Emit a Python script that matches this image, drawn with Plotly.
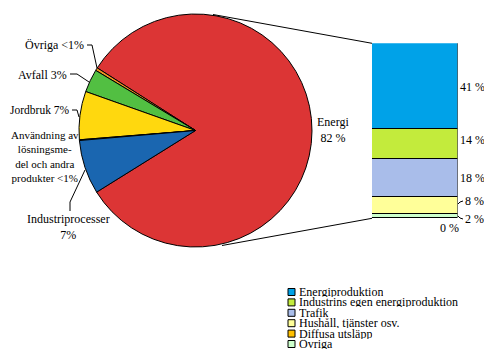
import plotly.graph_objects as go

# The page body keeps an 8px margin, so the figure is drawn 8px smaller and
# every reference pixel position is shifted by that offset.
OFF = 8
W, H = 492 - OFF, 358 - OFF

# Pie data (percent of total emissions)
pie_labels = ["Energi", "Övriga", "Avfall", "Jordbruk",
              "Användning av lösningsmedel och andra produkter", "Industriprocesser"]
pie_values = [82.1, 0.4, 3.2, 6.7, 0.1, 7.5]
pie_colors = ["#DC3535", "#F29422", "#52BF42", "#FFD80E", "#303030", "#1A66B0"]
pie_text = ["Energi<br>82 %", "Övriga <1%", "Avfall 3%", "Jordbruk 7%",
            "Användning av<br>lösningsme-<br>del och andra<br>produkter <1%",
            "Industriprocesser<br>7%"]

# Breakdown of Energi (percent of total)
bar_labels = ["Övriga", "Diffusa utsläpp", "Hushåll, tjänster osv.", "Trafik",
              "Industrins egen energiproduktion", "Energiproduktion"]
bar_values = [2, 0, 8, 18, 14, 41]
bar_colors = ["#CCFFCC", "#FFC000", "#FFFF99", "#A9BDEA", "#C3EB3C", "#00A2E8"]
legend_order = ["Energiproduktion", "Industrins egen energiproduktion", "Trafik",
                "Hushåll, tjänster osv.", "Diffusa utsläpp", "Övriga"]


def X(p):
    return (p - OFF) / W


def Y(p):
    return 1 - (p - OFF) / H


FAM = "Liberation Serif, Times New Roman, serif"
FONT = dict(family=FAM, size=12, color="black")

# pie geometry (reference pixels)
cx, cy, r = 195.5, 130.5, 116.5
# bar geometry (reference pixels)
bx0, bx1, by_top, by_bot = 372, 457.5, 43.3, 218.3

fig = go.Figure()
fig.add_trace(go.Pie(
    labels=pie_labels, values=pie_values, sort=False,
    direction="counterclockwise", rotation=-57.5,
    marker=dict(colors=pie_colors, line=dict(color="black", width=1)),
    textinfo="none", hoverinfo="label+percent", showlegend=False,
    domain=dict(x=[X(cx - r), X(cx + r)], y=[Y(cy + r), Y(cy - r)]),
))

total = sum(bar_values)
for lab, val, col in zip(bar_labels, bar_values, bar_colors):
    fig.add_trace(go.Bar(
        x=[0], y=[val], name=lab, width=1,
        marker=dict(color=col, line=dict(color="black", width=1)),
        showlegend=False, xaxis="x", yaxis="y",
    ))

fig.update_layout(
    width=W, height=H, margin=dict(l=0, r=0, t=0, b=0),
    paper_bgcolor="white", plot_bgcolor="rgba(0,0,0,0)",
    barmode="stack", bargap=0,
    xaxis=dict(domain=[X(bx0), X(bx1)], range=[-0.5, 0.5], visible=False, fixedrange=True),
    yaxis=dict(domain=[Y(by_bot), Y(by_top)], range=[0, total], visible=False, fixedrange=True),
    font=FONT,
)

ann = []
shapes = []

# Pie labels: (x, y, anchor, font size)
pie_pos = {
    "Energi": (333, 130, "center", 12),
    "Övriga": (85, 45, "right", 12),
    "Avfall": (68, 75, "right", 12),
    "Jordbruk": (71, 110, "right", 11.5),
    "Användning av lösningsmedel och andra produkter": (45, 156, "center", 11),
    "Industriprocesser": (68, 227, "center", 12),
}
for lab, txt in zip(pie_labels, pie_text):
    px, py, anc, fs = pie_pos[lab]
    ann.append(dict(x=X(px), y=Y(py), xref="paper", yref="paper", text=txt,
                    showarrow=False, xanchor=anc, yanchor="middle", align="center",
                    font=dict(family=FAM, size=fs, color="black"), borderpad=0))

# leader lines for pie labels
leaders = [
    [(87, 45), (92, 45), (97, 68)],
    [(70, 74), (77, 74), (89, 82)],
    [(72, 110), (77, 110), (79, 117)],
    [(70, 211), (70, 202), (85, 170)],
]
for pts in leaders:
    path = "M " + " L ".join(f"{X(a)},{Y(b)}" for a, b in pts)
    shapes.append(dict(type="path", path=path, xref="paper", yref="paper",
                       line=dict(color="black", width=1)))

# connector lines pie -> bar
shapes.append(dict(type="line", xref="paper", yref="paper",
                   x0=X(213), y0=Y(14.5), x1=X(bx0), y1=Y(by_top),
                   line=dict(color="black", width=1)))
shapes.append(dict(type="line", xref="paper", yref="paper",
                   x0=X(222), y0=Y(245.5), x1=X(bx0), y1=Y(by_bot),
                   line=dict(color="black", width=1)))

# bar value labels
cum = 0
mids = []
for v in bar_values:
    mids.append(cum + v / 2)
    cum += v
bar_lab_pos = {
    "Energiproduktion": (459, None),
    "Industrins egen energiproduktion": (459, 140),
    "Trafik": (459, None),
    "Hushåll, tjänster osv.": (464, 201),
    "Övriga": (464, 219),
    "Diffusa utsläpp": (439, 228),
}
for lab, v, m in zip(bar_labels, bar_values, mids):
    px, py = bar_lab_pos[lab]
    if py is None:
        yv, yr = m, "y"
    else:
        yv, yr = Y(py), "paper"
    ann.append(dict(x=X(px), y=yv, xref="paper", yref=yr, text=f"{v} %",
                    showarrow=False, xanchor="left", yanchor="middle", font=FONT,
                    borderpad=0))

# small leader ticks for narrow segments
for pts in [[(458, 204), (460, 202), (463, 201)], [(458, 216), (460, 218), (463, 219)]]:
    path = "M " + " L ".join(f"{X(a)},{Y(b)}" for a, b in pts)
    shapes.append(dict(type="path", path=path, xref="paper", yref="paper",
                       line=dict(color="black", width=1)))

# manual legend
color_of = dict(zip(bar_labels, bar_colors))
ly0, dy = 292, 10.4
for i, lab in enumerate(legend_order):
    yy = ly0 + i * dy
    shapes.append(dict(type="rect", xref="paper", yref="paper",
                       x0=X(288), x1=X(295), y0=Y(yy + 3.5), y1=Y(yy - 3.5),
                       fillcolor=color_of[lab], line=dict(color="black", width=1)))
    ann.append(dict(x=X(298), y=Y(yy), xref="paper", yref="paper", text=lab,
                    showarrow=False, xanchor="left", yanchor="middle", font=FONT,
                    borderpad=0, height=10, valign="middle"))

fig.update_layout(annotations=ann, shapes=shapes)
fig.write_html("out.html", config=dict(displayModeBar=False))
